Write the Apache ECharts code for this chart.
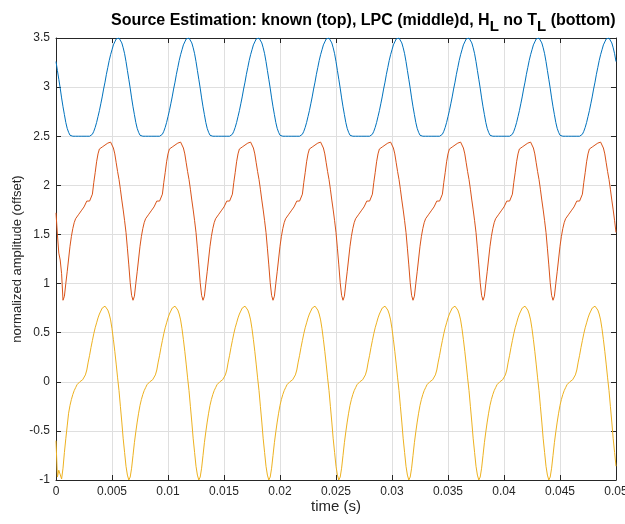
<!DOCTYPE html>
<html>
<head>
<meta charset="utf-8">
<script src="https://cdn.jsdelivr.net/npm/echarts@6/dist/echarts.min.js"></script>
<style>
  html, body { margin: 0; padding: 0; background: #fff; }
  #chart { width: 625px; height: 524px; }
</style>
</head>
<body>
<div id="chart"></div>
<script>
// time axis (s), one sample every 0.125 ms
const timeS = [
  0, 0.000125, 0.00025, 0.000375, 0.0005, 0.000625, 0.00075, 0.000875,
  0.001, 0.001125, 0.00125, 0.001375, 0.0015, 0.001625, 0.00175, 0.001875,
  0.002, 0.002125, 0.00225, 0.002375, 0.0025, 0.002625, 0.00275, 0.002875,
  0.003, 0.003125, 0.00325, 0.003375, 0.0035, 0.003625, 0.00375, 0.003875,
  0.004, 0.004125, 0.00425, 0.004375, 0.0045, 0.004625, 0.00475, 0.004875,
  0.005, 0.005125, 0.00525, 0.005375, 0.0055, 0.005625, 0.00575, 0.005875,
  0.006, 0.006125, 0.00625, 0.006375, 0.0065, 0.006625, 0.00675, 0.006875,
  0.007, 0.007125, 0.00725, 0.007375, 0.0075, 0.007625, 0.00775, 0.007875,
  0.008, 0.008125, 0.00825, 0.008375, 0.0085, 0.008625, 0.00875, 0.008875,
  0.009, 0.009125, 0.00925, 0.009375, 0.0095, 0.009625, 0.00975, 0.009875,
  0.01, 0.010125, 0.01025, 0.010375, 0.0105, 0.010625, 0.01075, 0.010875,
  0.011, 0.011125, 0.01125, 0.011375, 0.0115, 0.011625, 0.01175, 0.011875,
  0.012, 0.012125, 0.01225, 0.012375, 0.0125, 0.012625, 0.01275, 0.012875,
  0.013, 0.013125, 0.01325, 0.013375, 0.0135, 0.013625, 0.01375, 0.013875,
  0.014, 0.014125, 0.01425, 0.014375, 0.0145, 0.014625, 0.01475, 0.014875,
  0.015, 0.015125, 0.01525, 0.015375, 0.0155, 0.015625, 0.01575, 0.015875,
  0.016, 0.016125, 0.01625, 0.016375, 0.0165, 0.016625, 0.01675, 0.016875,
  0.017, 0.017125, 0.01725, 0.017375, 0.0175, 0.017625, 0.01775, 0.017875,
  0.018, 0.018125, 0.01825, 0.018375, 0.0185, 0.018625, 0.01875, 0.018875,
  0.019, 0.019125, 0.01925, 0.019375, 0.0195, 0.019625, 0.01975, 0.019875,
  0.02, 0.020125, 0.02025, 0.020375, 0.0205, 0.020625, 0.02075, 0.020875,
  0.021, 0.021125, 0.02125, 0.021375, 0.0215, 0.021625, 0.02175, 0.021875,
  0.022, 0.022125, 0.02225, 0.022375, 0.0225, 0.022625, 0.02275, 0.022875,
  0.023, 0.023125, 0.02325, 0.023375, 0.0235, 0.023625, 0.02375, 0.023875,
  0.024, 0.024125, 0.02425, 0.024375, 0.0245, 0.024625, 0.02475, 0.024875,
  0.025, 0.025125, 0.02525, 0.025375, 0.0255, 0.025625, 0.02575, 0.025875,
  0.026, 0.026125, 0.02625, 0.026375, 0.0265, 0.026625, 0.02675, 0.026875,
  0.027, 0.027125, 0.02725, 0.027375, 0.0275, 0.027625, 0.02775, 0.027875,
  0.028, 0.028125, 0.02825, 0.028375, 0.0285, 0.028625, 0.02875, 0.028875,
  0.029, 0.029125, 0.02925, 0.029375, 0.0295, 0.029625, 0.02975, 0.029875,
  0.03, 0.030125, 0.03025, 0.030375, 0.0305, 0.030625, 0.03075, 0.030875,
  0.031, 0.031125, 0.03125, 0.031375, 0.0315, 0.031625, 0.03175, 0.031875,
  0.032, 0.032125, 0.03225, 0.032375, 0.0325, 0.032625, 0.03275, 0.032875,
  0.033, 0.033125, 0.03325, 0.033375, 0.0335, 0.033625, 0.03375, 0.033875,
  0.034, 0.034125, 0.03425, 0.034375, 0.0345, 0.034625, 0.03475, 0.034875,
  0.035, 0.035125, 0.03525, 0.035375, 0.0355, 0.035625, 0.03575, 0.035875,
  0.036, 0.036125, 0.03625, 0.036375, 0.0365, 0.036625, 0.03675, 0.036875,
  0.037, 0.037125, 0.03725, 0.037375, 0.0375, 0.037625, 0.03775, 0.037875,
  0.038, 0.038125, 0.03825, 0.038375, 0.0385, 0.038625, 0.03875, 0.038875,
  0.039, 0.039125, 0.03925, 0.039375, 0.0395, 0.039625, 0.03975, 0.039875,
  0.04, 0.040125, 0.04025, 0.040375, 0.0405, 0.040625, 0.04075, 0.040875,
  0.041, 0.041125, 0.04125, 0.041375, 0.0415, 0.041625, 0.04175, 0.041875,
  0.042, 0.042125, 0.04225, 0.042375, 0.0425, 0.042625, 0.04275, 0.042875,
  0.043, 0.043125, 0.04325, 0.043375, 0.0435, 0.043625, 0.04375, 0.043875,
  0.044, 0.044125, 0.04425, 0.044375, 0.0445, 0.044625, 0.04475, 0.044875,
  0.045, 0.045125, 0.04525, 0.045375, 0.0455, 0.045625, 0.04575, 0.045875,
  0.046, 0.046125, 0.04625, 0.046375, 0.0465, 0.046625, 0.04675, 0.046875,
  0.047, 0.047125, 0.04725, 0.047375, 0.0475, 0.047625, 0.04775, 0.047875,
  0.048, 0.048125, 0.04825, 0.048375, 0.0485, 0.048625, 0.04875, 0.048875,
  0.049, 0.049125, 0.04925, 0.049375, 0.0495, 0.049625, 0.04975, 0.049875,
  0.05
];

// known source (top, offset +3)
const knownTop = [
  3.26, 3.17, 3.08, 2.99, 2.89, 2.80, 2.72, 2.64, 2.58, 2.54,
  2.51, 2.50, 2.50, 2.50, 2.50, 2.50, 2.50, 2.50, 2.50, 2.50,
  2.50, 2.50, 2.50, 2.50, 2.50, 2.51, 2.52, 2.55, 2.59, 2.64,
  2.70, 2.76, 2.83, 2.90, 2.98, 3.05, 3.13, 3.20, 3.27, 3.33,
  3.38, 3.43, 3.46, 3.49, 3.50, 3.50, 3.48, 3.45, 3.40, 3.34,
  3.26, 3.17, 3.08, 2.99, 2.89, 2.80, 2.72, 2.64, 2.58, 2.54,
  2.51, 2.50, 2.50, 2.50, 2.50, 2.50, 2.50, 2.50, 2.50, 2.50,
  2.50, 2.50, 2.50, 2.50, 2.50, 2.51, 2.52, 2.55, 2.59, 2.64,
  2.70, 2.76, 2.83, 2.90, 2.98, 3.05, 3.13, 3.20, 3.27, 3.33,
  3.38, 3.43, 3.46, 3.49, 3.50, 3.50, 3.48, 3.45, 3.40, 3.34,
  3.26, 3.17, 3.08, 2.99, 2.89, 2.80, 2.72, 2.64, 2.58, 2.54,
  2.51, 2.50, 2.50, 2.50, 2.50, 2.50, 2.50, 2.50, 2.50, 2.50,
  2.50, 2.50, 2.50, 2.50, 2.50, 2.51, 2.52, 2.55, 2.59, 2.64,
  2.70, 2.76, 2.83, 2.90, 2.98, 3.05, 3.13, 3.20, 3.27, 3.33,
  3.38, 3.43, 3.46, 3.49, 3.50, 3.50, 3.48, 3.45, 3.40, 3.34,
  3.26, 3.17, 3.08, 2.99, 2.89, 2.80, 2.72, 2.64, 2.58, 2.54,
  2.51, 2.50, 2.50, 2.50, 2.50, 2.50, 2.50, 2.50, 2.50, 2.50,
  2.50, 2.50, 2.50, 2.50, 2.50, 2.51, 2.52, 2.55, 2.59, 2.64,
  2.70, 2.76, 2.83, 2.90, 2.98, 3.05, 3.13, 3.20, 3.27, 3.33,
  3.38, 3.43, 3.46, 3.49, 3.50, 3.50, 3.48, 3.45, 3.40, 3.34,
  3.26, 3.17, 3.08, 2.99, 2.89, 2.80, 2.72, 2.64, 2.58, 2.54,
  2.51, 2.50, 2.50, 2.50, 2.50, 2.50, 2.50, 2.50, 2.50, 2.50,
  2.50, 2.50, 2.50, 2.50, 2.50, 2.51, 2.52, 2.55, 2.59, 2.64,
  2.70, 2.76, 2.83, 2.90, 2.98, 3.05, 3.13, 3.20, 3.27, 3.33,
  3.38, 3.43, 3.46, 3.49, 3.50, 3.50, 3.48, 3.45, 3.40, 3.34,
  3.26, 3.17, 3.08, 2.99, 2.89, 2.80, 2.72, 2.64, 2.58, 2.54,
  2.51, 2.50, 2.50, 2.50, 2.50, 2.50, 2.50, 2.50, 2.50, 2.50,
  2.50, 2.50, 2.50, 2.50, 2.50, 2.51, 2.52, 2.55, 2.59, 2.64,
  2.70, 2.76, 2.83, 2.90, 2.98, 3.05, 3.13, 3.20, 3.27, 3.33,
  3.38, 3.43, 3.46, 3.49, 3.50, 3.50, 3.48, 3.45, 3.40, 3.34,
  3.26, 3.17, 3.08, 2.99, 2.89, 2.80, 2.72, 2.64, 2.58, 2.54,
  2.51, 2.50, 2.50, 2.50, 2.50, 2.50, 2.50, 2.50, 2.50, 2.50,
  2.50, 2.50, 2.50, 2.50, 2.50, 2.51, 2.52, 2.55, 2.59, 2.64,
  2.70, 2.76, 2.83, 2.90, 2.98, 3.05, 3.13, 3.20, 3.27, 3.33,
  3.38, 3.43, 3.46, 3.49, 3.50, 3.50, 3.48, 3.45, 3.40, 3.34,
  3.26, 3.17, 3.08, 2.99, 2.89, 2.80, 2.72, 2.64, 2.58, 2.54,
  2.51, 2.50, 2.50, 2.50, 2.50, 2.50, 2.50, 2.50, 2.50, 2.50,
  2.50, 2.50, 2.50, 2.50, 2.50, 2.51, 2.52, 2.55, 2.59, 2.64,
  2.70, 2.76, 2.83, 2.90, 2.98, 3.05, 3.13, 3.20, 3.27, 3.33,
  3.38, 3.43, 3.46, 3.49, 3.50, 3.50, 3.48, 3.45, 3.40, 3.34,
  3.26
];

// LPC estimate (middle, offset +1.5)
const lpcMiddle = [
  1.72, 1.50, 1.31, 1.24, 1.10, 0.83, 0.87, 1.00, 1.12, 1.25,
  1.38, 1.48, 1.56, 1.62, 1.66, 1.68, 1.70, 1.72, 1.74, 1.75,
  1.78, 1.80, 1.84, 1.86, 1.84, 1.84, 1.91, 2.03, 2.13, 2.24,
  2.32, 2.37, 2.39, 2.39, 2.40, 2.41, 2.42, 2.43, 2.44, 2.44,
  2.42, 2.38, 2.32, 2.23, 2.14, 2.06, 1.96, 1.85, 1.75, 1.64,
  1.52, 1.36, 1.19, 1.01, 0.88, 0.83, 0.87, 1.00, 1.12, 1.25,
  1.38, 1.48, 1.56, 1.62, 1.66, 1.68, 1.70, 1.72, 1.74, 1.75,
  1.78, 1.80, 1.84, 1.86, 1.84, 1.84, 1.91, 2.03, 2.13, 2.24,
  2.32, 2.37, 2.39, 2.39, 2.40, 2.41, 2.42, 2.43, 2.44, 2.44,
  2.42, 2.38, 2.32, 2.23, 2.14, 2.06, 1.96, 1.85, 1.75, 1.64,
  1.52, 1.36, 1.19, 1.01, 0.88, 0.83, 0.87, 1.00, 1.12, 1.25,
  1.38, 1.48, 1.56, 1.62, 1.66, 1.68, 1.70, 1.72, 1.74, 1.75,
  1.78, 1.80, 1.84, 1.86, 1.84, 1.84, 1.91, 2.03, 2.13, 2.24,
  2.32, 2.37, 2.39, 2.39, 2.40, 2.41, 2.42, 2.43, 2.44, 2.44,
  2.42, 2.38, 2.32, 2.23, 2.14, 2.06, 1.96, 1.85, 1.75, 1.64,
  1.52, 1.36, 1.19, 1.01, 0.88, 0.83, 0.87, 1.00, 1.12, 1.25,
  1.38, 1.48, 1.56, 1.62, 1.66, 1.68, 1.70, 1.72, 1.74, 1.75,
  1.78, 1.80, 1.84, 1.86, 1.84, 1.84, 1.91, 2.03, 2.13, 2.24,
  2.32, 2.37, 2.39, 2.39, 2.40, 2.41, 2.42, 2.43, 2.44, 2.44,
  2.42, 2.38, 2.32, 2.23, 2.14, 2.06, 1.96, 1.85, 1.75, 1.64,
  1.52, 1.36, 1.19, 1.01, 0.88, 0.83, 0.87, 1.00, 1.12, 1.25,
  1.38, 1.48, 1.56, 1.62, 1.66, 1.68, 1.70, 1.72, 1.74, 1.75,
  1.78, 1.80, 1.84, 1.86, 1.84, 1.84, 1.91, 2.03, 2.13, 2.24,
  2.32, 2.37, 2.39, 2.39, 2.40, 2.41, 2.42, 2.43, 2.44, 2.44,
  2.42, 2.38, 2.32, 2.23, 2.14, 2.06, 1.96, 1.85, 1.75, 1.64,
  1.52, 1.36, 1.19, 1.01, 0.88, 0.83, 0.87, 1.00, 1.12, 1.25,
  1.38, 1.48, 1.56, 1.62, 1.66, 1.68, 1.70, 1.72, 1.74, 1.75,
  1.78, 1.80, 1.84, 1.86, 1.84, 1.84, 1.91, 2.03, 2.13, 2.24,
  2.32, 2.37, 2.39, 2.39, 2.40, 2.41, 2.42, 2.43, 2.44, 2.44,
  2.42, 2.38, 2.32, 2.23, 2.14, 2.06, 1.96, 1.85, 1.75, 1.64,
  1.52, 1.36, 1.19, 1.01, 0.88, 0.83, 0.87, 1.00, 1.12, 1.25,
  1.38, 1.48, 1.56, 1.62, 1.66, 1.68, 1.70, 1.72, 1.74, 1.75,
  1.78, 1.80, 1.84, 1.86, 1.84, 1.84, 1.91, 2.03, 2.13, 2.24,
  2.32, 2.37, 2.39, 2.39, 2.40, 2.41, 2.42, 2.43, 2.44, 2.44,
  2.42, 2.38, 2.32, 2.23, 2.14, 2.06, 1.96, 1.85, 1.75, 1.64,
  1.52, 1.36, 1.19, 1.01, 0.88, 0.83, 0.87, 1.00, 1.12, 1.25,
  1.38, 1.48, 1.56, 1.62, 1.66, 1.68, 1.70, 1.72, 1.74, 1.75,
  1.78, 1.80, 1.84, 1.86, 1.84, 1.84, 1.91, 2.03, 2.13, 2.24,
  2.32, 2.37, 2.39, 2.39, 2.40, 2.41, 2.42, 2.43, 2.44, 2.44,
  2.42, 2.38, 2.32, 2.23, 2.14, 2.06, 1.96, 1.85, 1.75, 1.64,
  1.52
];

// H_L no T_L estimate (bottom)
const hlBottom = [
  -0.60, -0.97, -0.90, -0.90, -0.99, -0.88, -0.72, -0.58, -0.45, -0.32,
  -0.24, -0.18, -0.13, -0.09, -0.06, -0.03, -0.02, 0.00, 0.01, 0.02,
  0.03, 0.07, 0.12, 0.20, 0.27, 0.35, 0.42, 0.49, 0.55, 0.60,
  0.65, 0.69, 0.72, 0.75, 0.77, 0.77, 0.75, 0.73, 0.69, 0.63,
  0.54, 0.43, 0.31, 0.18, 0.04, -0.09, -0.25, -0.41, -0.58, -0.72,
  -0.86, -0.95, -1.00, -0.97, -0.88, -0.75, -0.62, -0.51, -0.41, -0.32,
  -0.24, -0.18, -0.13, -0.09, -0.06, -0.03, -0.02, 0.00, 0.01, 0.02,
  0.03, 0.07, 0.12, 0.20, 0.27, 0.35, 0.42, 0.49, 0.55, 0.60,
  0.65, 0.69, 0.72, 0.75, 0.77, 0.77, 0.75, 0.73, 0.69, 0.63,
  0.54, 0.43, 0.31, 0.18, 0.04, -0.09, -0.25, -0.41, -0.58, -0.72,
  -0.86, -0.95, -1.00, -0.97, -0.88, -0.75, -0.62, -0.51, -0.41, -0.32,
  -0.24, -0.18, -0.13, -0.09, -0.06, -0.03, -0.02, 0.00, 0.01, 0.02,
  0.03, 0.07, 0.12, 0.20, 0.27, 0.35, 0.42, 0.49, 0.55, 0.60,
  0.65, 0.69, 0.72, 0.75, 0.77, 0.77, 0.75, 0.73, 0.69, 0.63,
  0.54, 0.43, 0.31, 0.18, 0.04, -0.09, -0.25, -0.41, -0.58, -0.72,
  -0.86, -0.95, -1.00, -0.97, -0.88, -0.75, -0.62, -0.51, -0.41, -0.32,
  -0.24, -0.18, -0.13, -0.09, -0.06, -0.03, -0.02, 0.00, 0.01, 0.02,
  0.03, 0.07, 0.12, 0.20, 0.27, 0.35, 0.42, 0.49, 0.55, 0.60,
  0.65, 0.69, 0.72, 0.75, 0.77, 0.77, 0.75, 0.73, 0.69, 0.63,
  0.54, 0.43, 0.31, 0.18, 0.04, -0.09, -0.25, -0.41, -0.58, -0.72,
  -0.86, -0.95, -1.00, -0.97, -0.88, -0.75, -0.62, -0.51, -0.41, -0.32,
  -0.24, -0.18, -0.13, -0.09, -0.06, -0.03, -0.02, 0.00, 0.01, 0.02,
  0.03, 0.07, 0.12, 0.20, 0.27, 0.35, 0.42, 0.49, 0.55, 0.60,
  0.65, 0.69, 0.72, 0.75, 0.77, 0.77, 0.75, 0.73, 0.69, 0.63,
  0.54, 0.43, 0.31, 0.18, 0.04, -0.09, -0.25, -0.41, -0.58, -0.72,
  -0.86, -0.95, -1.00, -0.97, -0.88, -0.75, -0.62, -0.51, -0.41, -0.32,
  -0.24, -0.18, -0.13, -0.09, -0.06, -0.03, -0.02, 0.00, 0.01, 0.02,
  0.03, 0.07, 0.12, 0.20, 0.27, 0.35, 0.42, 0.49, 0.55, 0.60,
  0.65, 0.69, 0.72, 0.75, 0.77, 0.77, 0.75, 0.73, 0.69, 0.63,
  0.54, 0.43, 0.31, 0.18, 0.04, -0.09, -0.25, -0.41, -0.58, -0.72,
  -0.86, -0.95, -1.00, -0.97, -0.88, -0.75, -0.62, -0.51, -0.41, -0.32,
  -0.24, -0.18, -0.13, -0.09, -0.06, -0.03, -0.02, 0.00, 0.01, 0.02,
  0.03, 0.07, 0.12, 0.20, 0.27, 0.35, 0.42, 0.49, 0.55, 0.60,
  0.65, 0.69, 0.72, 0.75, 0.77, 0.77, 0.75, 0.73, 0.69, 0.63,
  0.54, 0.43, 0.31, 0.18, 0.04, -0.09, -0.25, -0.41, -0.58, -0.72,
  -0.86, -0.95, -1.00, -0.97, -0.88, -0.75, -0.62, -0.51, -0.41, -0.32,
  -0.24, -0.18, -0.13, -0.09, -0.06, -0.03, -0.02, 0.00, 0.01, 0.02,
  0.03, 0.07, 0.12, 0.20, 0.27, 0.35, 0.42, 0.49, 0.55, 0.60,
  0.65, 0.69, 0.72, 0.75, 0.77, 0.77, 0.75, 0.73, 0.69, 0.63,
  0.54, 0.43, 0.31, 0.18, 0.04, -0.09, -0.25, -0.41, -0.58, -0.72,
  -0.86
];

const xTickStep = 0.005;
const yTickStep = 0.5;

const FONT = "'Liberation Sans', Arial, Helvetica, sans-serif";
const INK = '#262626';

const chart = echarts.init(document.getElementById('chart'), null, { renderer: 'canvas' });

const pairs = (vals) => timeS.map((t, i) => [t, vals[i]]);
const fmt = (v) => String(+v.toFixed(4));

const frameAxis = {
  type: 'value',
  axisLine: { show: true, onZero: false, lineStyle: { color: INK, width: 1 } },
  axisTick: { show: true, inside: true, length: 5, lineStyle: { color: INK } },
  axisLabel: { show: false },
  splitLine: { show: false }
};

const option = {
  animation: false,
  backgroundColor: '#fff',
  title: {
    text: '{a|Source Estimation: known (top), LPC (middle)d, H}{s|L}{a| no T}{s|L}{a| (bottom)}',
    left: 106,
    top: 2,
    textStyle: {
      rich: {
        a: { fontFamily: FONT, fontSize: 16, fontWeight: 'bold', color: '#000' },
        s: { fontFamily: FONT, fontSize: 15, fontWeight: 'bold', color: '#000', padding: [12, 0, 0, 0] }
      }
    }
  },
  grid: { left: 56, right: 9, top: 38, bottom: 44, containLabel: false, outerBoundsMode: 'none' },
  xAxis: [
    {
      type: 'value',
      min: 0,
      max: 0.05,
      interval: xTickStep,
      name: 'time (s)',
      nameLocation: 'middle',
      nameGap: 19,
      nameMoveOverlap: false,
      nameTextStyle: { fontFamily: FONT, fontSize: 15, color: INK },
      axisLine: { show: true, onZero: false, lineStyle: { color: INK, width: 1 } },
      axisTick: { show: true, inside: true, length: 5, lineStyle: { color: INK } },
      axisLabel: { fontFamily: FONT, fontSize: 12, color: INK, margin: 6, formatter: fmt },
      splitLine: { show: true, lineStyle: { color: '#dfdfdf', width: 1 } }
    },
    Object.assign({}, frameAxis, { position: 'top', min: 0, max: 0.05, interval: xTickStep })
  ],
  yAxis: [
    {
      type: 'value',
      min: -1,
      max: 3.5,
      interval: yTickStep,
      name: 'normalized amplitude (offset)',
      nameLocation: 'middle',
      nameGap: 32,
      nameMoveOverlap: false,
      nameTextStyle: { fontFamily: FONT, fontSize: 13, color: INK },
      axisLine: { show: true, onZero: false, lineStyle: { color: INK, width: 1 } },
      axisTick: { show: true, inside: true, length: 5, lineStyle: { color: INK } },
      axisLabel: { fontFamily: FONT, fontSize: 12, color: INK, margin: 6, formatter: fmt },
      splitLine: { show: true, lineStyle: { color: '#dfdfdf', width: 1 } }
    },
    Object.assign({}, frameAxis, { position: 'right', min: -1, max: 3.5, interval: yTickStep })
  ],
  series: [
    {
      name: 'known',
      type: 'line',
      data: pairs(knownTop),
      showSymbol: false,
      lineStyle: { color: '#0072BD', width: 1 },
      itemStyle: { color: '#0072BD' }
    },
    {
      name: 'LPC',
      type: 'line',
      data: pairs(lpcMiddle),
      showSymbol: false,
      lineStyle: { color: '#D95319', width: 1 },
      itemStyle: { color: '#D95319' }
    },
    {
      name: 'H_L no T_L',
      type: 'line',
      data: pairs(hlBottom),
      showSymbol: false,
      lineStyle: { color: '#EDB120', width: 1 },
      itemStyle: { color: '#EDB120' }
    }
  ]
};

chart.setOption(option);
</script>
</body>
</html>
